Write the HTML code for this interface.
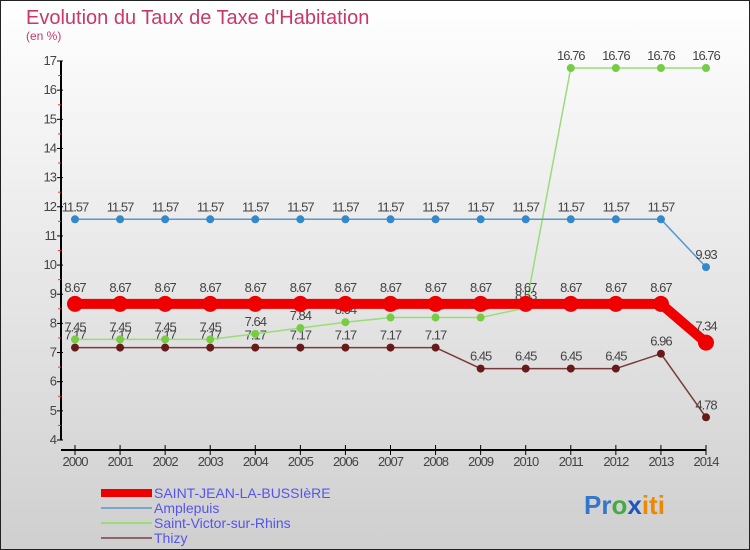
<!DOCTYPE html>
<html><head><meta charset="utf-8"><style>
body{margin:0;width:750px;height:550px;overflow:hidden}
svg{display:block;font-family:"Liberation Sans",sans-serif}
</style></head><body>
<svg id="chart" width="750" height="550">
<defs><linearGradient id="bg" x1="0" y1="0" x2="0" y2="1"><stop offset="0" stop-color="#ffffff"/><stop offset="1" stop-color="#cfcfcf"/></linearGradient></defs>
<rect x="0" y="0" width="750" height="550" fill="url(#bg)"/>
<rect x="0.5" y="0.5" width="749" height="549" fill="none" stroke="#222"/>
<text x="26" y="24" font-size="20" fill="#c8386a">Evolution du Taux de Taxe d'Habitation</text>
<text x="26" y="40" font-size="12" fill="#c8386a">(en %)</text>
<g id="axes"></g><g id="series"></g>
<g>
<rect x="101" y="489" width="51" height="8" fill="#ee0000"/>
<text x="154" y="498" font-size="14" fill="#5555ee">SAINT-JEAN-LA-BUSSIèRE</text>
<rect x="101" y="507" width="51" height="2" fill="#7aa6cc"/>
<text x="154" y="513" font-size="14" fill="#5555ee">Amplepuis</text>
<rect x="101" y="522" width="51" height="2" fill="#99dd77"/>
<text x="154" y="528" font-size="14" fill="#5555ee">Saint-Victor-sur-Rhins</text>
<rect x="101" y="537" width="51" height="2" fill="#8a6666"/>
<text x="154" y="543" font-size="14" fill="#5555ee">Thizy</text>
</g>
<g font-size="26" font-weight="bold">
<text x="584" y="514"><tspan fill="#3377cc">Pr</tspan><tspan fill="#44aa44">o</tspan><tspan fill="#2255bb">x</tspan><tspan fill="#ee8800">iti</tspan></text>
</g>
</svg>
<script>
const years=[2000,2001,2002,2003,2004,2005,2006,2007,2008,2009,2010,2011,2012,2013,2014];
const yTicks=[4,5,6,7,8,9,10,11,12,13,14,15,16,17];
const stJean=[8.67,8.67,8.67,8.67,8.67,8.67,8.67,8.67,8.67,8.67,8.67,8.67,8.67,8.67,7.34];
const amplepuis=[11.57,11.57,11.57,11.57,11.57,11.57,11.57,11.57,11.57,11.57,11.57,11.57,11.57,11.57,9.93];
const stVictor=[7.45,7.45,7.45,7.45,7.64,7.84,8.04,8.2,8.2,8.2,8.53,16.76,16.76,16.76,16.76];
const thizy=[7.17,7.17,7.17,7.17,7.17,7.17,7.17,7.17,7.17,6.45,6.45,6.45,6.45,6.96,4.78];
const NS="http://www.w3.org/2000/svg";
const xS=i=>75+i*(706-75)/14;
const yS=v=>440-(v-4)*(379/13);
function mk(tag,attrs,parent){const e=document.createElementNS(NS,tag);for(const k in attrs)e.setAttribute(k,attrs[k]);parent.appendChild(e);return e;}
const axes=document.getElementById('axes');
let yl=mk('line',{x1:61,y1:yS(17),x2:61,y2:yS(4),stroke:'#000','stroke-width':2},axes);


yTicks.forEach(t=>{
 mk('line',{x1:57,y1:yS(t),x2:63,y2:yS(t),stroke:'#000'},axes);
 if(t<17)mk('line',{x1:58,y1:yS(t+0.5),x2:61,y2:yS(t+0.5),stroke:'#e33'},axes);
 const tx=mk('text',{x:56,y:yS(t)+4,'font-size':13,fill:'#444','text-anchor':'end','letter-spacing':'-1'},axes);
 tx.textContent=t;
 
 
});
let xl=mk('line',{x1:61,y1:450,x2:706,y2:450,stroke:'#000','stroke-width':2},axes);


years.forEach((y,i)=>{
 mk('line',{x1:xS(i),y1:445,x2:xS(i),y2:455,stroke:'#000'},axes);
 const tx=mk('text',{x:xS(i),y:466,'font-size':13,fill:'#444','text-anchor':'middle','letter-spacing':'-1'},axes);
 tx.textContent=y;
 
 
});
const sg=document.getElementById('series');
function draw(vals,color,lw,r,ptColor,name){
 const g=mk('g',{},sg);
 
 
 mk('polyline',{points:vals.map((v,i)=>xS(i)+','+yS(v)).join(' '),fill:'none',stroke:color,'stroke-width':lw,'stroke-linejoin':'round'},g);
 vals.forEach((v,i)=>{
  const c=mk('circle',{cx:xS(i),cy:yS(v),r:r,fill:ptColor},g);
  
  
  const t=mk('text',{x:xS(i),y:yS(v)-r-4,'font-size':13,fill:'#444','text-anchor':'middle','letter-spacing':'-1'},g);
  t.textContent=String(v);
  
  
 });
}
draw(thizy,'#7a3a3a',1.5,4,'#661a1a','thizy');
draw(stVictor,'#99dd77',1.5,4,'#77cc44','saint-victor');
draw(amplepuis,'#5599cc',1.5,4,'#3388cc','amplepuis');
draw(stJean,'#ee0000',10,8,'#ee0000','saint-jean');
</script>
</body></html>
